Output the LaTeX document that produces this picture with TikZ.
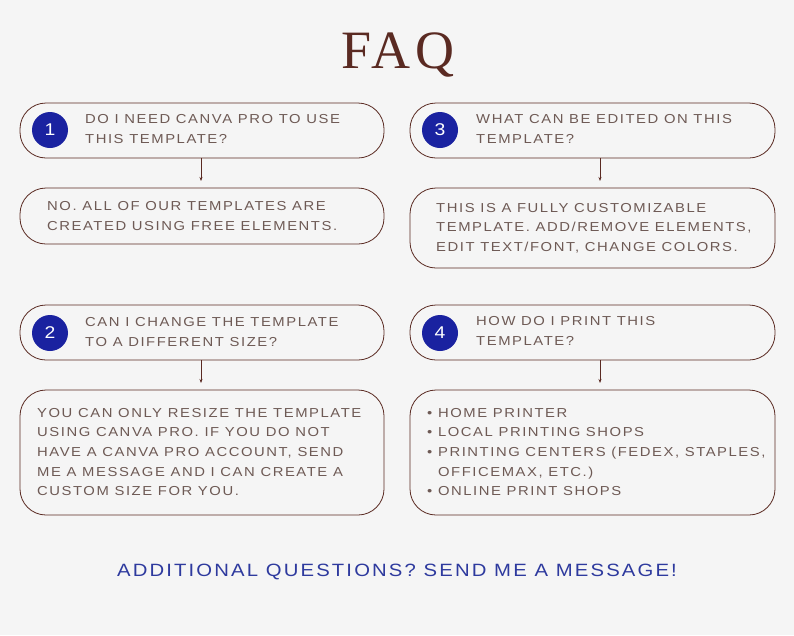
\documentclass[tikz,border=0pt]{standalone}
\usepackage{fontspec}
\setmainfont{Liberation Sans}[LetterSpace=12,FakeStretch=1.14]
\newfontfamily\titlefont{Liberation Serif}[LetterSpace=8]
\usetikzlibrary{arrows.meta}
\definecolor{bg}{HTML}{F5F5F5}
\definecolor{brn}{HTML}{5A2A22}
\definecolor{txt}{HTML}{6E5A55}
\definecolor{navy}{HTML}{1A22A0}
\definecolor{blu}{HTML}{2E3A9E}
\begin{document}
\begin{tikzpicture}[x=1pt,y=-1pt,
  box/.style={draw=brn,line width=0.8pt,rounded corners=26pt},
  num/.style={circle,fill=navy,minimum size=36pt,inner sep=0pt,text=white,font=\fontsize{17}{17}\selectfont},
  t/.style={anchor=west,align=left,inner sep=0pt,text=txt,font=\fontsize{13}{19.6}\selectfont},
  arr/.style={draw=brn,line width=0.6pt,-{Stealth[length=4pt,width=3pt]}}]
\fill[bg] (0,0) rectangle (794,635);
\node[text=brn,font=\titlefont\fontsize{54}{54}\selectfont] (title) at (398,55) {FAQ};
\draw[box] (20,103) rectangle (384,158); \coordinate (q1b) at (201,158);
\draw[box] (20,188) rectangle (384,244); \coordinate (a1t) at (201,181);
\draw[box] (20,305) rectangle (384,360); \coordinate (q2b) at (201,360);
\draw[box] (20,390) rectangle (384,515); \coordinate (a2t) at (201,383);
\draw[box] (410,103) rectangle (775,158); \coordinate (q3b) at (600,158);
\draw[box] (410,188) rectangle (775,268); \coordinate (a3t) at (600,181);
\draw[box] (410,305) rectangle (775,360); \coordinate (q4b) at (600,360);
\draw[box] (410,390) rectangle (775,515); \coordinate (a4t) at (600,383);
\draw[arr] (q1b) -- (a1t); \draw[arr] (q2b) -- (a2t);
\draw[arr] (q3b) -- (a3t); \draw[arr] (q4b) -- (a4t);
\node[num] (n1) at (50,130) {1};
\node[num] (n3) at (440,130) {3};
\node[num] (n2) at (50,333) {2};
\node[num] (n4) at (440,333) {4};
\node[t] (q1) at (85,129) {DO I NEED CANVA PRO TO USE\\THIS TEMPLATE?};
\node[t] (a1) at (47,216) {NO. ALL OF OUR TEMPLATES ARE\\CREATED USING FREE ELEMENTS.};
\node[t] (q2) at (85,332) {CAN I CHANGE THE TEMPLATE\\TO A DIFFERENT SIZE?};
\node[t] (a2) at (37,452) {YOU CAN ONLY RESIZE THE TEMPLATE\\USING CANVA PRO. IF YOU DO NOT\\HAVE A CANVA PRO ACCOUNT, SEND\\ME A MESSAGE AND I CAN CREATE A\\CUSTOM SIZE FOR YOU.};
\node[t] (q3) at (476,129) {WHAT CAN BE EDITED ON THIS\\TEMPLATE?};
\node[t] (a3) at (436,228) {THIS IS A FULLY CUSTOMIZABLE\\TEMPLATE. ADD/REMOVE ELEMENTS,\\EDIT TEXT/FONT, CHANGE COLORS.};
\node[t] (q4) at (476,331) {HOW DO I PRINT THIS\\TEMPLATE?};
\node[t] (a4) at (427,452) {\textbullet\ HOME PRINTER\\\textbullet\ LOCAL PRINTING SHOPS\\\textbullet\ PRINTING CENTERS (FEDEX, STAPLES,\\\phantom{\textbullet\ }OFFICEMAX, ETC.)\\\textbullet\ ONLINE PRINT SHOPS};
\node[text=blu,font=\fontsize{17.8}{18}\selectfont] (foot) at (397,572) {ADDITIONAL QUESTIONS? SEND ME A MESSAGE!};
\end{tikzpicture}
\end{document}
